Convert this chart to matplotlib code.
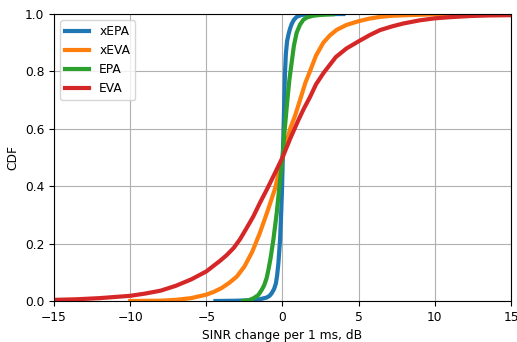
import matplotlib.pyplot as plt

# values
xepa_x = [-4.4, -3.0, -2.0, -1.5, -1.04, -0.85, -0.71, -0.55, -0.43, -0.35, -0.27, -0.16, -0.08, -0.03, 0.02,
          0.1, 0.16, 0.22, 0.3, 0.4, 0.49, 0.6, 0.75, 0.93, 1.2, 1.6, 2.5, 4.0]
xepa_y = [0.0, 0.001, 0.003, 0.006, 0.012, 0.018, 0.027, 0.042, 0.062, 0.09, 0.131, 0.213, 0.317, 0.39, 0.5,
          0.66, 0.79, 0.86, 0.905, 0.93, 0.948, 0.965, 0.98, 0.99, 0.996, 0.999, 1.0, 1.0]

xeva_x = [-10.0, -8.0, -7.0, -6.0, -5.0, -4.5, -4.0, -3.5, -3.0, -2.5, -2.0, -1.5, -1.0, -0.5, 0.0, 0.5, 0.82,
          1.15, 1.5, 1.8, 2.2, 2.68, 3.1, 3.56, 4.2, 5.0, 5.7, 6.4, 7.2, 8.15, 10.0, 12.0, 15.0]
xeva_y = [0.0, 0.001, 0.004, 0.01, 0.022, 0.032, 0.045, 0.063, 0.085, 0.12, 0.17, 0.235, 0.31, 0.39, 0.5, 0.6, 0.645,
          0.70, 0.76, 0.8, 0.855, 0.9, 0.925, 0.945, 0.962, 0.975, 0.984, 0.99, 0.994, 0.996, 0.999, 1.0, 1.0]

epa_x = [-2.6, -2.2, -1.92, -1.6, -1.37, -1.2, -1.04, -0.9, -0.78, -0.6, -0.38, -0.2, 0.0, 0.15, 0.32, 0.45,
         0.6, 0.75, 0.93, 1.15, 1.37, 1.6, 2.0, 2.5, 3.3]
epa_y = [0.0, 0.003, 0.009, 0.02, 0.038, 0.055, 0.08, 0.115, 0.15, 0.213, 0.306, 0.4, 0.5, 0.6, 0.7, 0.77,
         0.83, 0.89, 0.935, 0.963, 0.98, 0.988, 0.994, 0.997, 0.999]

eva_x = [-15.0, -13.5, -12.0, -11.0, -10.0, -9.0, -8.0, -7.0, -6.0, -5.0, -4.1, -3.66, -3.2, -2.79, -2.4, -1.92,
         -1.5, -1.04, -0.5, 0.0, 0.5, 1.04, 1.4, 1.8, 2.2, 2.7, 3.5, 4.2, 5.0, 5.74, 6.4, 7.2, 7.93, 9.0, 10.0,
         11.0, 12.3, 13.5, 15.0]
eva_y = [0.004, 0.006, 0.01, 0.014, 0.018, 0.026, 0.036, 0.053, 0.075, 0.103, 0.14, 0.16, 0.185, 0.215, 0.25, 0.294,
         0.34, 0.387, 0.445, 0.5, 0.565, 0.63, 0.67, 0.71, 0.755, 0.795, 0.85, 0.88, 0.905, 0.927, 0.944, 0.957, 0.967,
         0.978, 0.985, 0.989, 0.993, 0.995, 0.996]

plt.rcParams['font.size'] = 8.8

fig = plt.figure(figsize=(5.17, 3.42), dpi=100)
ax = fig.add_axes([0.1044, 0.1199, 0.884, 0.8391])

ax.plot(xepa_x, xepa_y, color='#1f77b4', lw=3, label='xEPA')
ax.plot(xeva_x, xeva_y, color='#ff7f0e', lw=3, label='xEVA')
ax.plot(epa_x, epa_y, color='#2ca02c', lw=3, label='EPA')
ax.plot(eva_x, eva_y, color='#d62728', lw=3, label='EVA')

ax.set_xlim(-15, 15)
ax.set_ylim(0, 1)
ax.set_xlabel('SINR change per 1 ms, dB')
ax.set_ylabel('CDF')
ax.grid(True)
ax.legend(loc='upper left')

fig.savefig('out.png', dpi=100)
